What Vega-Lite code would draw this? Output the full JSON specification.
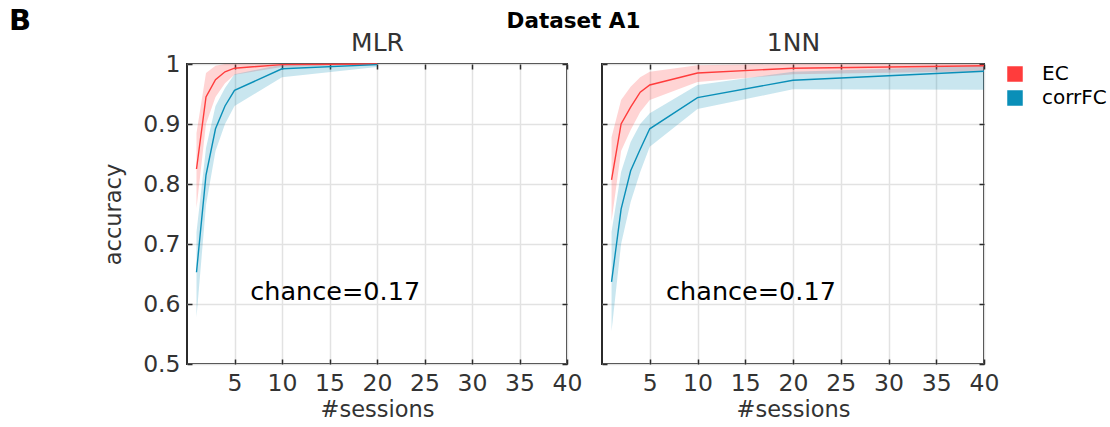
{
  "$schema": "https://vega.github.io/schema/vega-lite/v6.json",
  "autosize": {"type": "none"},
  "padding": {"left": 187, "top": 64, "right": 923, "bottom": 363},
  "background": "white",
  "title": {"text": "Dataset A1", "fontSize": 21.5, "fontWeight": "bold", "color": "black", "anchor": "middle", "dy": 30, "dx": 16, "font": "DejaVu Sans"},
  "spacing": 35,
  "bounds": "flush",
  "config": {
    "font": "DejaVu Sans",
    "view": {"stroke": "#2b2b2b", "strokeWidth": 2},
    "axis": {"labelFontSize": 23.5, "labelColor": "#333", "titleFontSize": 22.5, "titleColor": "#333", "titleFontWeight": "normal", "tickColor": "#2b2b2b", "tickSize": -5, "tickWidth": 1.5, "domain": false, "gridColor": "#e2e2e2", "gridWidth": 1.5, "labelFont": "DejaVu Sans", "titleFont": "DejaVu Sans", "labelFlush": false},
    "legend": {"labelFontSize": 20, "labelColor": "black", "symbolType": "square", "symbolSize": 196, "rowPadding": 4, "symbolOpacity": 1, "labelFont": "DejaVu Sans", "labelOffset": 17}
  },
  "datasets": {
    "mlr": [
      {"sessions": 1, "method": "EC", "mean": 0.825, "lo": 0.76, "hi": 0.885},
      {"sessions": 2, "method": "EC", "mean": 0.945, "lo": 0.9, "hi": 0.985},
      {"sessions": 3, "method": "EC", "mean": 0.974, "lo": 0.945, "hi": 0.997},
      {"sessions": 4, "method": "EC", "mean": 0.987, "lo": 0.968, "hi": 1.0},
      {"sessions": 5, "method": "EC", "mean": 0.993, "lo": 0.982, "hi": 1.0},
      {"sessions": 10, "method": "EC", "mean": 0.999, "lo": 0.995, "hi": 1.0},
      {"sessions": 20, "method": "EC", "mean": 1.0, "lo": 0.999, "hi": 1.0},
      {"sessions": 1, "method": "corrFC", "mean": 0.653, "lo": 0.578, "hi": 0.72},
      {"sessions": 2, "method": "corrFC", "mean": 0.815, "lo": 0.765, "hi": 0.86},
      {"sessions": 3, "method": "corrFC", "mean": 0.892, "lo": 0.855, "hi": 0.93},
      {"sessions": 4, "method": "corrFC", "mean": 0.93, "lo": 0.9, "hi": 0.96},
      {"sessions": 5, "method": "corrFC", "mean": 0.956, "lo": 0.93, "hi": 0.983},
      {"sessions": 10, "method": "corrFC", "mean": 0.992, "lo": 0.978, "hi": 0.999},
      {"sessions": 20, "method": "corrFC", "mean": 0.999, "lo": 0.995, "hi": 1.0}
    ],
    "nn": [
      {"sessions": 1, "method": "EC", "mean": 0.807, "lo": 0.738, "hi": 0.878},
      {"sessions": 2, "method": "EC", "mean": 0.9, "lo": 0.855, "hi": 0.94},
      {"sessions": 3, "method": "EC", "mean": 0.928, "lo": 0.89, "hi": 0.962},
      {"sessions": 4, "method": "EC", "mean": 0.953, "lo": 0.92, "hi": 0.978},
      {"sessions": 5, "method": "EC", "mean": 0.965, "lo": 0.94, "hi": 0.987},
      {"sessions": 10, "method": "EC", "mean": 0.985, "lo": 0.97, "hi": 0.998},
      {"sessions": 20, "method": "EC", "mean": 0.993, "lo": 0.983, "hi": 1.0},
      {"sessions": 40, "method": "EC", "mean": 0.997, "lo": 0.988, "hi": 1.0},
      {"sessions": 1, "method": "corrFC", "mean": 0.637, "lo": 0.555, "hi": 0.72},
      {"sessions": 2, "method": "corrFC", "mean": 0.758, "lo": 0.7, "hi": 0.82},
      {"sessions": 3, "method": "corrFC", "mean": 0.822, "lo": 0.77, "hi": 0.87},
      {"sessions": 4, "method": "corrFC", "mean": 0.858, "lo": 0.82, "hi": 0.9},
      {"sessions": 5, "method": "corrFC", "mean": 0.892, "lo": 0.862, "hi": 0.918},
      {"sessions": 10, "method": "corrFC", "mean": 0.944, "lo": 0.925, "hi": 0.965},
      {"sessions": 20, "method": "corrFC", "mean": 0.973, "lo": 0.958, "hi": 0.987},
      {"sessions": 40, "method": "corrFC", "mean": 0.988, "lo": 0.957, "hi": 0.997}
    ],
    "chance": [{"sessions": 15.6, "acc": 0.62, "label": "chance=0.17"}]
  },
  "hconcat": [
    {
      "width": 380, "height": 300,
      "title": {"text": "B", "anchor": "start", "frame": "group", "fontSize": 29, "fontWeight": "bold", "color": "black", "dx": -178, "dy": 6, "offset": 0},
      "layer": [
        {
          "data": {"name": "mlr"},
          "mark": {"type": "area", "opacity": 0.22},
          "encoding": {
            "x": {"field": "sessions", "type": "quantitative", "scale": {"domain": [0, 40]}, "axis": {"values": [5, 10, 15, 20, 25, 30, 35, 40], "title": "#sessions", "labelPadding": 12, "titlePadding": 4}},
            "y": {"field": "lo", "type": "quantitative", "scale": {"domain": [0.5, 1]}, "axis": {"values": [0.5, 0.6, 0.7, 0.8, 0.9, 1], "format": ".1~f", "title": "accuracy", "labelPadding": 12, "titlePadding": 17}},
            "y2": {"field": "hi"},
            "color": {"field": "method", "type": "nominal", "scale": {"domain": ["EC", "corrFC"], "range": ["#ff3c3c", "#0a8fb8"]}, "legend": {"title": null, "orient": "none", "legendX": 818, "legendY": 0}}
          }
        },
        {
          "data": {"name": "mlr"},
          "mark": {"type": "line", "strokeWidth": 1.4},
          "encoding": {
            "x": {"field": "sessions", "type": "quantitative", "axis": {"orient": "top", "values": [5, 10, 15, 20, 25, 30, 35, 40], "labels": false, "grid": false, "title": "MLR", "titlePadding": 8, "titleFontSize": 25}},
            "y": {"field": "mean", "type": "quantitative", "axis": {"orient": "right", "values": [0.5, 0.6, 0.7, 0.8, 0.9, 1], "labels": false, "grid": false, "title": null}},
            "color": {"field": "method", "type": "nominal"}
          }
        },
        {
          "data": {"name": "chance"},
          "mark": {"type": "text", "fontSize": 25.5, "color": "black"},
          "encoding": {
            "x": {"field": "sessions", "type": "quantitative", "axis": null},
            "y": {"field": "acc", "type": "quantitative", "axis": null},
            "text": {"field": "label"}
          }
        }
      ],
      "resolve": {"axis": {"x": "independent", "y": "independent"}}
    },
    {
      "width": 382, "height": 300,
      "layer": [
        {
          "data": {"name": "nn"},
          "mark": {"type": "area", "opacity": 0.22},
          "encoding": {
            "x": {"field": "sessions", "type": "quantitative", "scale": {"domain": [0, 40]}, "axis": {"values": [5, 10, 15, 20, 25, 30, 35, 40], "title": "#sessions", "labelPadding": 12, "titlePadding": 4}},
            "y": {"field": "lo", "type": "quantitative", "scale": {"domain": [0.5, 1]}, "axis": {"values": [0.5, 0.6, 0.7, 0.8, 0.9, 1], "labels": false, "title": null}},
            "y2": {"field": "hi"},
            "color": {"field": "method", "type": "nominal"}
          }
        },
        {
          "data": {"name": "nn"},
          "mark": {"type": "line", "strokeWidth": 1.4},
          "encoding": {
            "x": {"field": "sessions", "type": "quantitative", "axis": {"orient": "top", "values": [5, 10, 15, 20, 25, 30, 35, 40], "labels": false, "grid": false, "title": "1NN", "titlePadding": 8, "titleFontSize": 25}},
            "y": {"field": "mean", "type": "quantitative", "axis": {"orient": "right", "values": [0.5, 0.6, 0.7, 0.8, 0.9, 1], "labels": false, "grid": false, "title": null}},
            "color": {"field": "method", "type": "nominal"}
          }
        },
        {
          "data": {"name": "chance"},
          "mark": {"type": "text", "fontSize": 25.5, "color": "black"},
          "encoding": {
            "x": {"field": "sessions", "type": "quantitative", "axis": null},
            "y": {"field": "acc", "type": "quantitative", "axis": null},
            "text": {"field": "label"}
          }
        }
      ],
      "resolve": {"axis": {"x": "independent", "y": "independent"}}
    }
  ]
}
